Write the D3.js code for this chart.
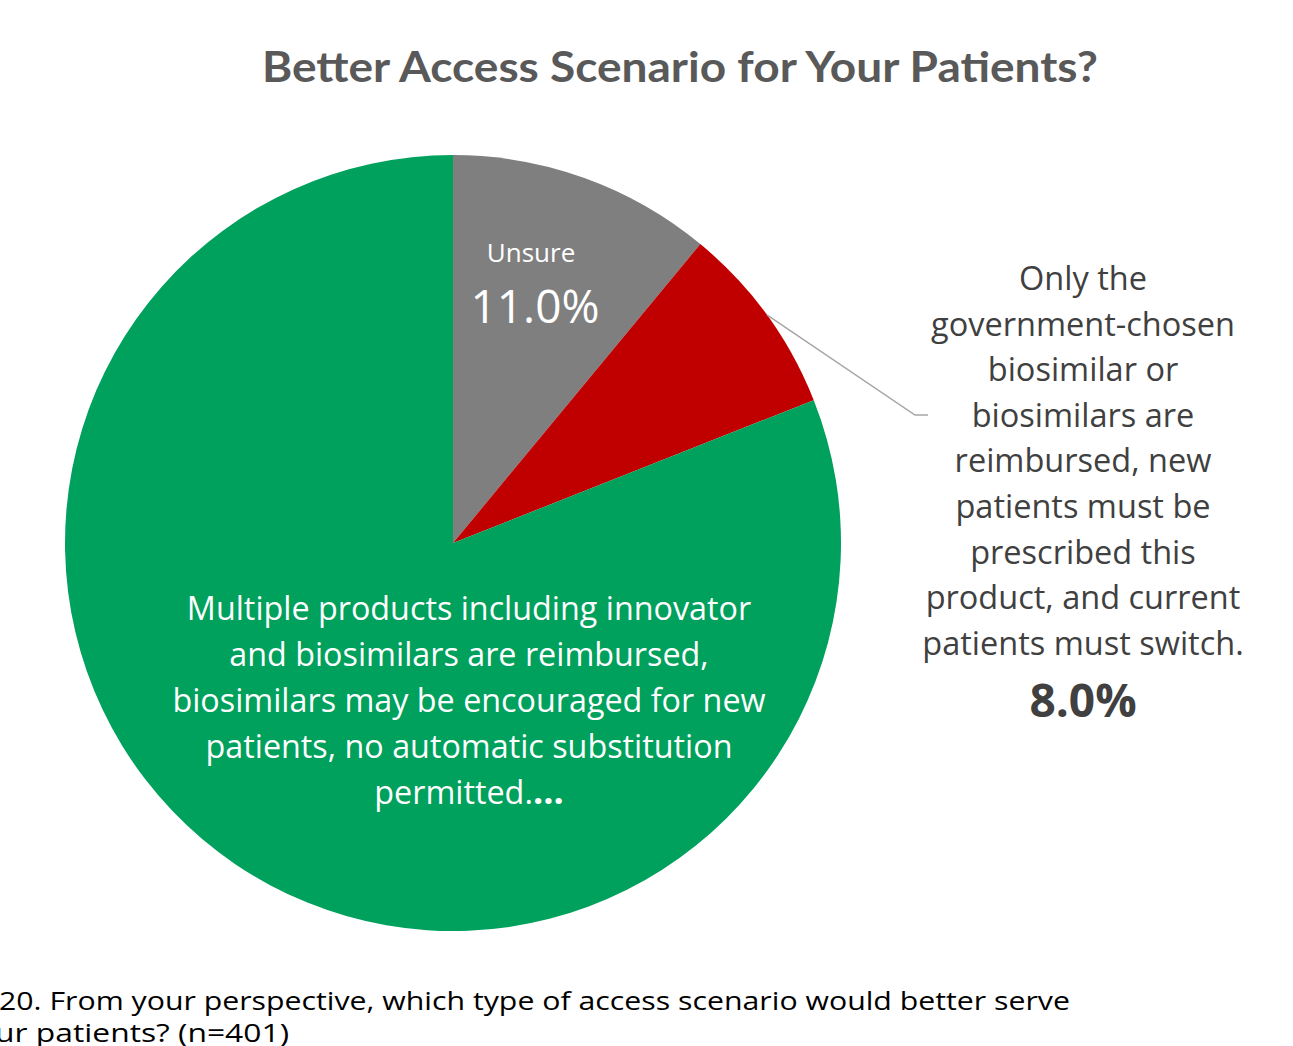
<!DOCTYPE html>
<html>
<head>
<meta charset="utf-8">
<script src="https://cdn.jsdelivr.net/npm/d3@7"></script>
<style>
  body { margin: 0; background: #fff; }
  svg { display: block; }
  text { font-family: "Open Sans", Lato, sans-serif; }
</style>
</head>
<body>
<div id="chart"></div>
<script>
// chart data, clockwise from 12 o'clock
var categories = ['Unsure', 'Only the government-chosen biosimilar', 'Multiple products'];
var values = [11.0, 8.0, 81.0];
var colors = ['#7f7f7f', '#c00000', '#00a05d'];

var unsureLines = ['Unsure'];
var govLines = ['Only the', 'government-chosen', 'biosimilar or', 'biosimilars are',
  'reimbursed, new', 'patients must be', 'prescribed this', 'product, and current',
  'patients must switch.'];
var multiLines = ['Multiple products including innovator', 'and biosimilars are reimbursed,',
  'biosimilars may be encouraged for new', 'patients, no automatic substitution', 'permitted.'];

var titleText = 'Better Access Scenario for Your Patients?';
var noteLines = ['20. From your perspective, which type of access scenario would better serve',
  'our patients? (n=401)'];

// 1. svg
var svgWidth = 1293;
var svgHeight = 1046;
var cx = 453, cy = 543, radius = 388;

var svg = d3.select('#chart')
  .append('svg')
  .attr('width', svgWidth)
  .attr('height', svgHeight);

// 2. title
svg.append('text')
  .attr('x', 680)
  .attr('y', 82)
  .attr('text-anchor', 'middle')
  .attr('font-size', 42)
  .attr('font-weight', 'bold')
  .attr('fill', '#595959')
  .style('font-family', 'Lato, sans-serif')
  .attr('textLength', 836)
  .attr('lengthAdjust', 'spacingAndGlyphs')
  .text(titleText);

// 3. pie
var pie = d3.pie().sort(null).value(d => d);
var arcs = pie(values);
var arc = d3.arc().innerRadius(0).outerRadius(radius);

var pieGroup = svg.append('g')
  .attr('transform', `translate(${cx}, ${cy})`);

pieGroup.selectAll('path')
  .data(arcs)
  .enter()
  .append('path')
  .attr('d', arc)
  .attr('fill', (d, i) => colors[i]);

// 4. leader line for the red slice
var redArc = arcs[1];
var midAngle = (redArc.startAngle + redArc.endAngle) / 2;
var p0 = [cx + Math.sin(midAngle) * radius, cy - Math.cos(midAngle) * radius];
svg.append('polyline')
  .attr('points', [p0, [915, 415], [928, 415]].map(p => p.join(',')).join(' '))
  .attr('fill', 'none')
  .attr('stroke', '#a6a6a6')
  .attr('stroke-width', 1.5);

// 5. labels
function pct(v) { return v.toFixed(1) + '%'; }

// unsure
svg.append('text')
  .attr('x', 531).attr('y', 262)
  .attr('text-anchor', 'middle')
  .attr('font-size', 26)
  .attr('fill', '#fff')
  .text(unsureLines[0]);
svg.append('text')
  .attr('x', 535).attr('y', 323)
  .attr('text-anchor', 'middle')
  .attr('font-size', 46)
  .attr('fill', '#fff')
  .text(pct(values[0]));

// government chosen
var govText = svg.append('text')
  .attr('text-anchor', 'middle')
  .attr('font-size', 32.5)
  .attr('fill', '#404040');
govLines.forEach(function(line, i) {
  govText.append('tspan')
    .attr('x', 1083)
    .attr('y', 290 + i * 45.6)
    .text(line);
});
svg.append('text')
  .attr('x', 1083).attr('y', 717)
  .attr('text-anchor', 'middle')
  .attr('font-size', 46)
  .attr('font-weight', 'bold')
  .attr('fill', '#404040')
  .text(pct(values[1]));

// multiple products
var multiText = svg.append('text')
  .attr('text-anchor', 'middle')
  .attr('font-size', 32.3)
  .attr('fill', '#fff');
multiLines.forEach(function(line, i) {
  multiText.append('tspan')
    .attr('x', 469)
    .attr('y', 620 + i * 46)
    .text(line);
  if (i === multiLines.length - 1) {
    multiText.append('tspan').attr('font-weight', 'bold').attr('font-size', 36).text('...');
  }
});

// 6. footnote (cropped at the left edge like the original slide)
svg.append('text')
  .attr('x', -1).attr('y', 1010)
  .attr('font-size', 26)
  .attr('fill', '#000')
  .attr('textLength', 1071)
  .attr('lengthAdjust', 'spacingAndGlyphs')
  .text(noteLines[0]);
svg.append('text')
  .attr('x', -24).attr('y', 1042)
  .attr('font-size', 26)
  .attr('fill', '#000')
  .attr('textLength', 313)
  .attr('lengthAdjust', 'spacingAndGlyphs')
  .text(noteLines[1]);
</script>
</body>
</html>
